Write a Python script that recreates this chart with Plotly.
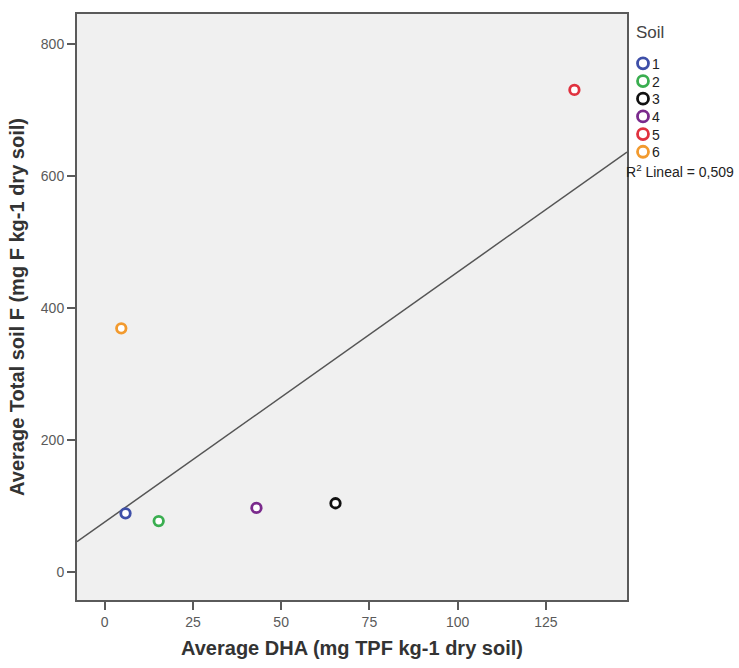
import numpy as np
import plotly.graph_objects as go

soils = ["1", "2", "3", "4", "5", "6"]
dha = [5.9, 15.3, 65.4, 43.0, 133.1, 4.7]
total_f = [88.7, 77.0, 104.0, 97.0, 730.0, 369.0]
colors = ["#3e4fa8", "#3aae50", "#111111", "#7a2a8c", "#e0323f", "#f29a2e"]

x_ticks = [0, 25, 50, 75, 100, 125]
y_ticks = [0, 200, 400, 600, 800]
x_range = [-7.85, 148.0]
y_range = [-42.5, 845]
r2_label = "0,509"

slope, intercept = np.polyfit(dha, total_f, 1)

# plot area in pixels
L, R, T, B = 77, 627, 12, 602
W, H = 739, 668


def px(x):
    return (x - L) / (R - L)


def py(y):
    return (B - y) / (B - T)


fig = go.Figure()
fx = np.array(x_range)
fig.add_trace(go.Scatter(x=fx, y=slope * fx + intercept, mode="lines",
                         line=dict(color="#555555", width=1.5),
                         showlegend=False, hoverinfo="skip"))
for s, x, y, c in zip(soils, dha, total_f, colors):
    fig.add_trace(go.Scatter(x=[x], y=[y], mode="markers", name=s, showlegend=False,
                             marker=dict(symbol="circle", size=9.5, color="white",
                                         line=dict(color=c, width=2.8))))

# manual legend (SPSS style)
fig.add_annotation(xref="paper", yref="paper", x=px(634), y=py(31),
                   xanchor="left", yanchor="middle", showarrow=False,
                   text="Soil", font=dict(size=17, color="#444444"))
for i, (s, c) in enumerate(zip(soils, colors)):
    cy = 61.7 + 17.8 * i
    fig.add_shape(type="circle", xref="paper", yref="paper",
                  xsizemode="pixel", ysizemode="pixel",
                  xanchor=px(643), yanchor=py(cy),
                  x0=-5.5, x1=5.5, y0=-5.5, y1=5.5,
                  line=dict(color=c, width=2.8), fillcolor="white")
    fig.add_annotation(xref="paper", yref="paper", x=px(650), y=py(cy + 0.5),
                       xanchor="left", yanchor="middle", showarrow=False,
                       text=s, font=dict(size=14, color="#222222"))

fig.add_annotation(xref="paper", yref="paper", x=px(624), y=py(170),
                   xanchor="left", yanchor="middle", showarrow=False,
                   text="R<sup>2</sup> Lineal = " + r2_label,
                   font=dict(size=14, color="#222222"))

axis_common = dict(showgrid=False, zeroline=False, showline=True, mirror=True,
                   linecolor="#5a5a5a", linewidth=2, ticks="outside", ticklen=8,
                   tickwidth=1.5, tickcolor="#5a5a5a",
                   tickfont=dict(size=14, color="#5a5a5a"))

fig.update_layout(
    width=W, height=H,
    margin=dict(l=L, r=W - R, t=T, b=H - B),
    paper_bgcolor="white", plot_bgcolor="#f0f0f0",
    font=dict(family="Arial, Liberation Sans, sans-serif", color="#333333"),
    showlegend=False,
    xaxis=dict(range=x_range, tickvals=x_ticks, **axis_common,
               title=dict(text="<b>Average DHA (mg TPF kg-1 dry soil)</b>",
                          font=dict(size=20, color="#333333"), standoff=12)),
    yaxis=dict(range=y_range, tickvals=y_ticks, **axis_common,
               title=dict(text="<b>Average Total soil F (mg F kg-1 dry soil)</b>",
                          font=dict(size=20, color="#333333"), standoff=11)),
)

fig.write_html("out.html",
               config={"displayModeBar": False},
               post_script="document.body.style.margin='0';"
                           "document.body.style.overflow='hidden';")
